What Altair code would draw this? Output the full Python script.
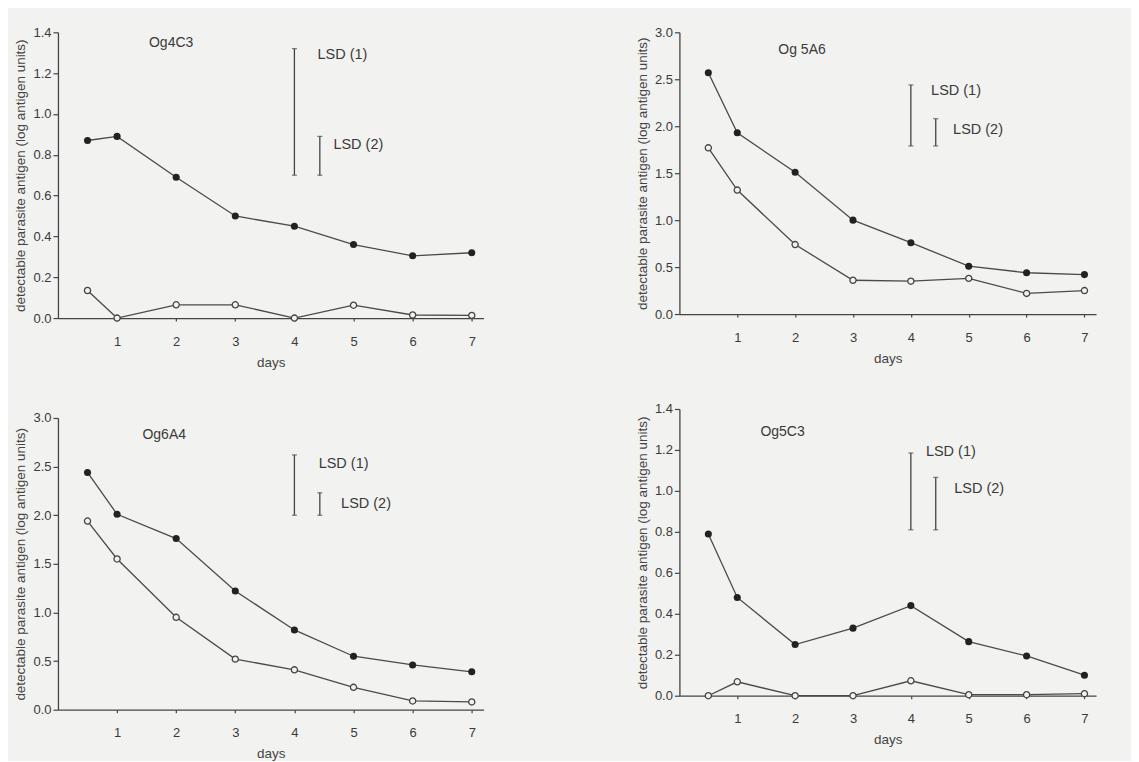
import altair as alt
import pandas as pd

# ---------------- data ----------------
days = [0.5, 1, 2, 3, 4, 5, 6, 7]

og4c3_filled = [0.87, 0.89, 0.69, 0.50, 0.45, 0.36, 0.305, 0.32]
og4c3_open = [0.135, 0.0, 0.065, 0.065, 0.0, 0.063, 0.015, 0.013]
og4c3_lsd1 = [0.70, 1.32]
og4c3_lsd2 = [0.70, 0.89]

og5a6_filled = [2.57, 1.93, 1.51, 1.00, 0.76, 0.51, 0.44, 0.42]
og5a6_open = [1.77, 1.32, 0.74, 0.36, 0.35, 0.38, 0.22, 0.25]
og5a6_lsd1 = [1.79, 2.44]
og5a6_lsd2 = [1.79, 2.08]

og6a4_filled = [2.44, 2.01, 1.76, 1.22, 0.82, 0.55, 0.46, 0.39]
og6a4_open = [1.94, 1.55, 0.95, 0.52, 0.41, 0.23, 0.09, 0.08]
og6a4_lsd1 = [2.00, 2.62]
og6a4_lsd2 = [2.00, 2.23]

og5c3_filled = [0.79, 0.48, 0.25, 0.33, 0.44, 0.264, 0.194, 0.10]
og5c3_open = [0.0, 0.068, 0.0, 0.0, 0.073, 0.005, 0.005, 0.01]
og5c3_lsd1 = [0.81, 1.185]
og5c3_lsd2 = [0.81, 1.066]

lsd_days = [4.0, 4.43]
x_ticks = [1, 2, 3, 4, 5, 6, 7]
y_ticks_small = [0.0, 0.2, 0.4, 0.6, 0.8, 1.0, 1.2, 1.4]
y_ticks_large = [0.0, 0.5, 1.0, 1.5, 2.0, 2.5, 3.0]

Y_TITLE = "detectable parasite antigen (log antigen units)"
BG = "#f2f2f0"
INK = "#3a3a3a"
FONT = "Liberation Sans"


def panel(name, filled, opened, lsd1, lsd2, yticks, title_pos, lsd1_pos, lsd2_pos, w, h):
    df = pd.DataFrame({
        "day": days + days,
        "value": filled + opened,
        "series": ["filled"] * len(days) + ["open"] * len(days),
    })
    x = alt.X("day:Q",
              scale=alt.Scale(domain=[0, 7.2], nice=False, zero=False),
              axis=alt.Axis(values=x_ticks, format="d", title="days",
                            tickSize=3, labelPadding=14, titlePadding=7,
                            grid=False))
    y = alt.Y("value:Q",
              scale=alt.Scale(domain=[0, yticks[-1]], nice=False),
              axis=alt.Axis(values=yticks, format=".1f", title=Y_TITLE,
                            tickSize=5, labelPadding=2, titlePadding=5,
                            grid=False))
    base = alt.Chart(df)
    lines = base.mark_line(color="#4a4a4a", strokeWidth=1.3).encode(
        x=x, y=y, detail="series:N")
    pts_f = base.transform_filter(alt.datum.series == "filled").mark_point(
        filled=True, size=50, color="#222222", opacity=1).encode(x=x, y=y)
    pts_o = base.transform_filter(alt.datum.series == "open").mark_point(
        filled=True, size=38, fill=BG, stroke="#444444", strokeWidth=1.3,
        opacity=1).encode(x=x, y=y)

    lsd_df = pd.DataFrame({
        "day": lsd_days,
        "value": [lsd1[0], lsd2[0]],
        "value2": [lsd1[1], lsd2[1]],
    })
    rules = alt.Chart(lsd_df).mark_rule(color="#444444", strokeWidth=1.3).encode(
        x="day:Q", y="value:Q", y2="value2:Q")
    caps_df = pd.DataFrame({
        "day": lsd_days + lsd_days,
        "value": [lsd1[0], lsd2[0], lsd1[1], lsd2[1]],
    })
    caps = alt.Chart(caps_df).mark_tick(
        orient="horizontal", size=5, thickness=1.2, color="#444444").encode(
        x="day:Q", y="value:Q")

    txt_df = pd.DataFrame({
        "day": [title_pos[0], lsd1_pos[0], lsd2_pos[0]],
        "value": [title_pos[1], lsd1_pos[1], lsd2_pos[1]],
        "label": [name, "LSD (1)", "LSD (2)"],
        "fs": [14, 14.5, 14.5],
    })
    texts = alt.Chart(txt_df).mark_text(
        align="left", baseline="middle", font=FONT, color=INK).encode(
        x="day:Q", y="value:Q", text="label:N",
        size=alt.Size("fs:Q", scale=None, legend=None))

    return alt.layer(lines, pts_o, pts_f, rules, caps, texts).properties(
        width=w, height=h)


p1 = panel("Og4C3", og4c3_filled, og4c3_open, og4c3_lsd1, og4c3_lsd2,
           y_ticks_small, (1.54, 1.35), (4.39, 1.29), (4.66, 0.85), 426, 286)
p2 = panel("Og 5A6", og5a6_filled, og5a6_open, og5a6_lsd1, og5a6_lsd2,
           y_ticks_large, (1.71, 2.81), (4.35, 2.37), (4.73, 1.96), 417, 282)
p3 = panel("Og6A4", og6a4_filled, og6a4_open, og6a4_lsd1, og6a4_lsd2,
           y_ticks_large, (1.43, 2.82), (4.41, 2.53), (4.79, 2.12), 426, 292)
p4 = panel("Og5C3", og5c3_filled, og5c3_open, og5c3_lsd1, og5c3_lsd2,
           y_ticks_small, (1.40, 1.29), (4.26, 1.19), (4.75, 1.01), 417, 287)

col1 = alt.vconcat(p1, p3, spacing=43)
col2 = alt.vconcat(p2, p4, spacing=38)

chart = alt.hconcat(col1, col2, spacing=151).properties(
    background=BG,
    padding={"left": 5, "top": 18, "right": 35, "bottom": 0},
).configure_view(stroke=None).configure_axis(
    domainColor="#444444", domainWidth=1.3,
    tickColor="#444444", tickWidth=1.2,
    labelFont=FONT, labelFontSize=13, labelColor=INK,
    titleFont=FONT, titleFontSize=13.5, titleFontWeight="normal",
    titleColor="#444444",
)

chart.save("out.html", embed_options={"renderer": "svg", "actions": False})
